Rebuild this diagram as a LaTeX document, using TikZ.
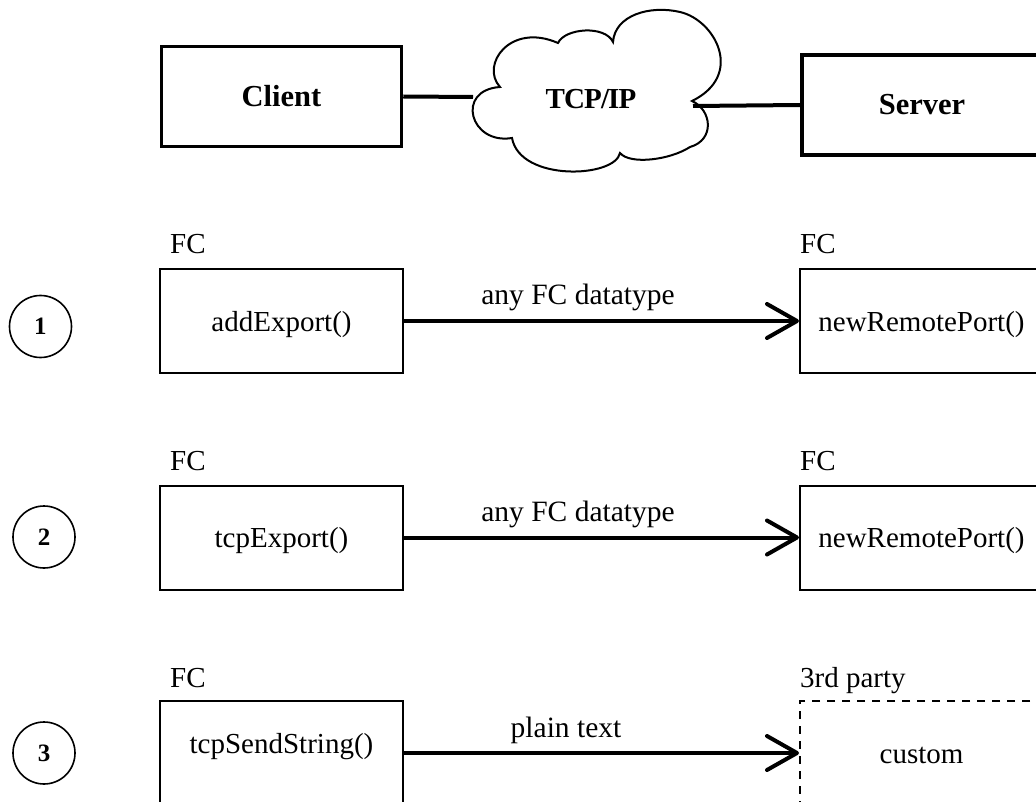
\documentclass[tikz,border=0pt]{standalone}
\usepackage{fontspec}
\setmainfont{Liberation Serif}
\newfontfamily\tightserif[LetterSpace=-3]{Liberation Serif}
\usetikzlibrary{arrows.meta}
\begin{document}
\begin{tikzpicture}[x=1pt,y=-1pt,
  big/.style={draw, line width=3.5pt, minimum width=240pt, minimum height=100pt, inner sep=0pt, text height=20pt, text depth=0pt, font=\fontsize{30.5}{33}\selectfont\bfseries},
  fnbox/.style={draw, line width=2pt, minimum width=243pt, minimum height=104pt, inner sep=0pt, text height=20pt, text depth=0pt, font=\fontsize{29}{32}\selectfont},
  dbox/.style={fnbox, dash pattern=on 8pt off 7pt},
  num/.style={circle, draw, line width=1.6pt, minimum size=62pt, inner sep=0pt, font=\fontsize{25}{28}\selectfont\bfseries},
  tag/.style={anchor=base west, inner sep=0pt, font=\fontsize{29}{32}\selectfont},
  lbl/.style={anchor=base, inner sep=0pt, font=\fontsize{29.5}{32}\selectfont},
  txt/.style={inner sep=0pt, font=\fontsize{29}{32}\selectfont},
  arr/.style={line width=4pt, -{Straight Barb[length=30pt, width=34pt, round]}},
  link/.style={line width=4pt},
  cloudline/.style={line width=2pt}
]
\useasboundingbox (0,0) rectangle (1036,802);
\clip (0,0) rectangle (1036,802);

% top row
\node[big] (client) at (281.5,96.5) {Client};
\node[big] (server) at (922,105) {Server};
\draw[cloudline] (500,87) .. controls (480,65) and (510,22) .. (558,43)
  .. controls (565,28) and (605,25) .. (613,42)
  .. controls (615,15) and (650,5) .. (680,12)
  .. controls (715,20) and (745,75) .. (692,101)
  .. controls (712,110) and (715,140) .. (690,147)
  .. controls (670,160) and (630,165) .. (620,153)
  .. controls (615,178) and (520,182) .. (512,138)
  .. controls (470,145) and (455,90) .. cycle;
\node[inner sep=0pt, text height=20pt, text depth=0pt, font=\fontsize{29}{32}\tightserif\bfseries] (tcp) at (591,99) {TCP/IP};
\coordinate (cl) at (473,97);
\coordinate (cr) at (693,106);
\draw[link] (client.east) -- (cl);
\draw[link] (cr) -- (server.west);

% row 1
\node[num] (n1) at (40.5,326.5) {1};
\node[fnbox] (a1) at (281.5,321) {addExport()};
\node[fnbox] (b1) at (921.5,321) {newRemotePort()};
\node[tag] (fa1) at (170,254) {FC};
\node[tag] (fb1) at (800,254) {FC};
\draw[arr] (a1.east) -- (b1.west);
\node[lbl] (l1) at (578,305) {any FC datatype};

% row 2
\node[num] (n2) at (44,537) {2};
\node[fnbox] (a2) at (281.5,537.5) {tcpExport()};
\node[fnbox] (b2) at (921.5,537.5) {newRemotePort()};
\node[tag] (fa2) at (170,470) {FC};
\node[tag] (fb2) at (800,470) {FC};
\draw[arr] (a2.east) -- (b2.west);
\node[lbl] (l2) at (578,521) {any FC datatype};

% row 3
\node[num] (n3) at (44,753) {3};
\node[fnbox] (a3) at (281.5,753) {};
\node[txt, text height=20pt, text depth=0pt] (t3) at (281.5,743) {tcpSendString()};
\node[dbox] (b3) at (921.5,753) {custom};
\node[tag] (fa3) at (170,687) {FC};
\node[tag] (fb3) at (800,687) {3rd party};
\draw[arr] (a3.east) -- (b3.west);
\node[lbl] (l3) at (566,737) {plain text};
\end{tikzpicture}
\end{document}
